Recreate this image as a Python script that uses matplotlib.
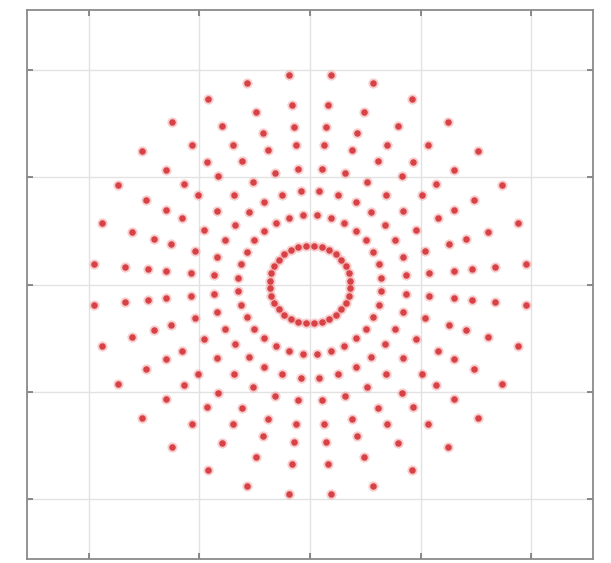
"""
Konstellationsdiagramm (256-APSK, 8 Ringe a 32 Symbole) im MATLAB-Stil.
Erzeugt out.png.
"""
import numpy as np
import matplotlib.pyplot as plt

# Ringradien, Symbole pro Ring, Phasenversatz in Grad
RING_RADII = [0.365, 0.65, 0.875, 1.085, 1.31, 1.475, 1.68, 1.965]
POINTS_PER_RING = [32, 32, 32, 32, 32, 32, 32, 32]
PHASE_OFFSET_DEG = [5.625, 5.625, 5.625, 5.625, 5.625, 5.625, 5.625, 5.625]

GRID_TICKS = [-2, -1, 0, 1, 2]
AXIS_LIMIT = 2.56


def constellation_points():
    xs, ys = [], []
    for r, n, ph in zip(RING_RADII, POINTS_PER_RING, PHASE_OFFSET_DEG):
        ang = np.deg2rad(ph + 360.0 / n * np.arange(n))
        xs.append(r * np.cos(ang))
        ys.append(r * np.sin(ang))
    return np.concatenate(xs), np.concatenate(ys)


def main():
    fig = plt.figure(figsize=(6.11, 5.63), dpi=100)
    ax = fig.add_axes([0.0442, 0.007, 0.9263, 0.9752])

    x, y = constellation_points()
    # Weicher Rand + dunkler Kern, damit die Punkte wie Wolken aussehen
    ax.scatter(x, y, s=55, color="#f09090", alpha=0.45, linewidths=0, zorder=3)
    ax.scatter(x, y, s=22, color="#d22a30", alpha=0.85, linewidths=0, zorder=4)

    ax.set_xlim(-AXIS_LIMIT, AXIS_LIMIT)
    ax.set_ylim(-AXIS_LIMIT, AXIS_LIMIT)
    ax.set_xticks(GRID_TICKS)
    ax.set_yticks(GRID_TICKS)
    ax.set_xticklabels([])
    ax.set_yticklabels([])
    ax.tick_params(direction="in", length=4, width=1.2, color="#777777",
                   top=True, right=True)
    ax.grid(True, color="#e2e2e2", linewidth=1.0)
    ax.set_axisbelow(True)
    for sp in ax.spines.values():
        sp.set_color("#8a8a8a")
        sp.set_linewidth(1.3)

    fig.savefig("out.png", dpi=100)
    plt.close(fig)


if __name__ == "__main__":
    main()
